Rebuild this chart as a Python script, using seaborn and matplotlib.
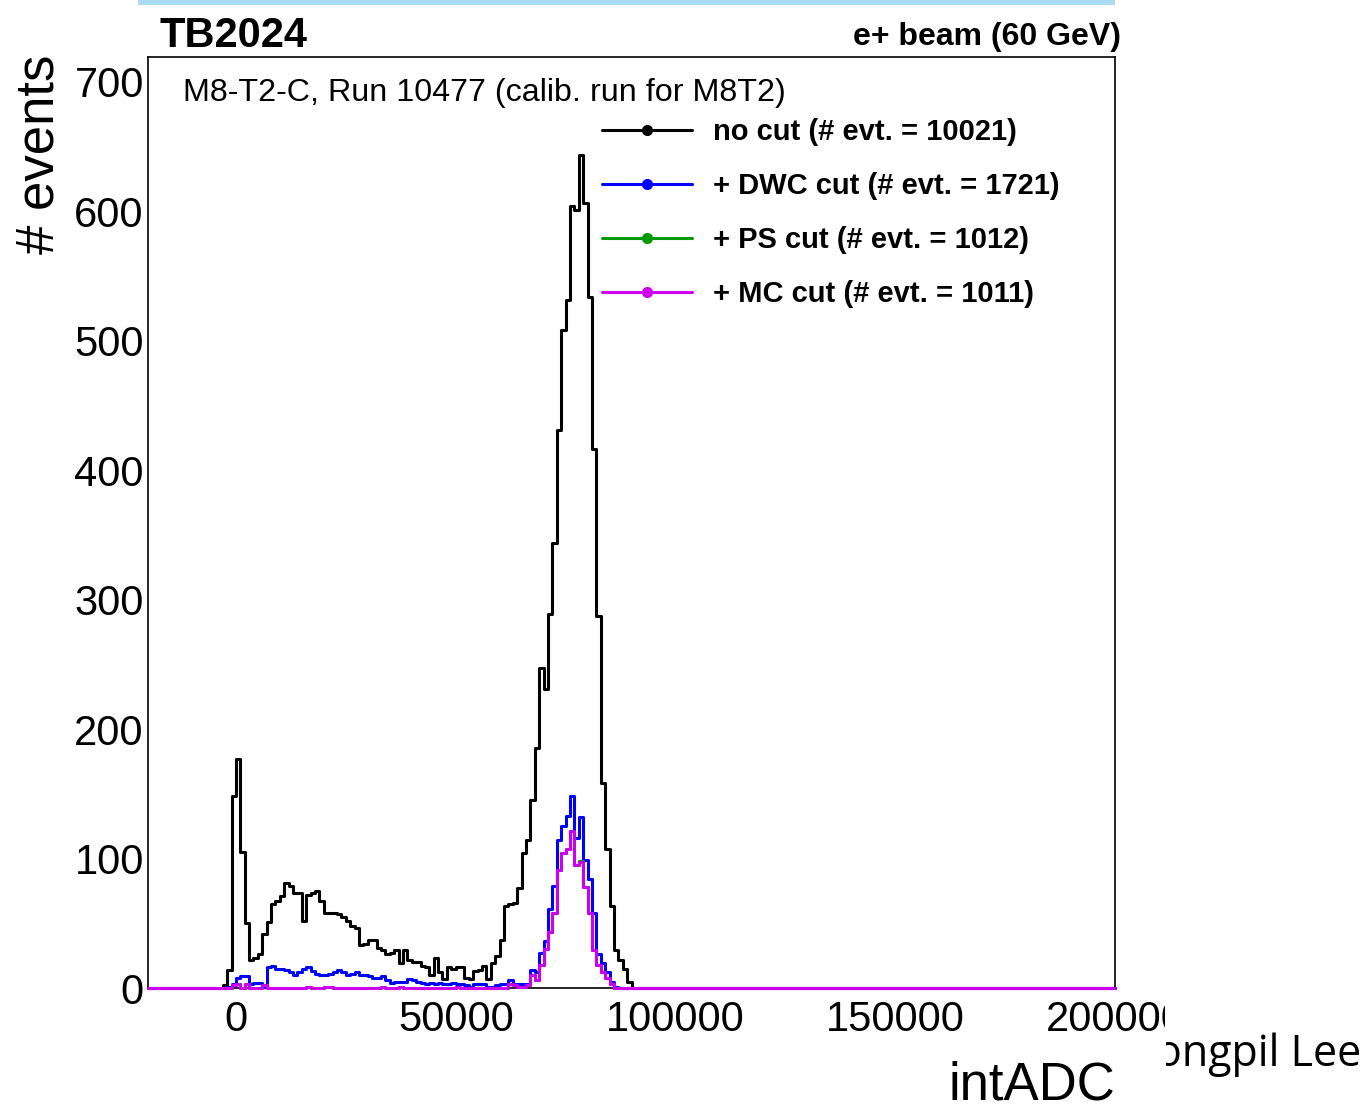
import numpy as np
import pandas as pd
import matplotlib
matplotlib.use("Agg")
import matplotlib.pyplot as plt
import seaborn as sns
from matplotlib.lines import Line2D
from matplotlib.patches import Rectangle
from matplotlib.ticker import MultipleLocator, FixedLocator, FuncFormatter
from matplotlib.transforms import Bbox, TransformedBbox

# ---------------- data ----------------
x_min, x_max, n_bins = -20000, 200000, 220

series_names = [
    "no cut (# evt. = 10021)",
    "+ DWC cut (# evt. = 1721)",
    "+ PS cut (# evt. = 1012)",
    "+ MC cut (# evt. = 1011)",
]
series_colors = ["#000000", "#0000ff", "#009900", "#cc00ee"]

# counts per bin, starting at the given bin index
no_cut_start = 17
no_cut = [2, 14, 148, 177, 105, 50, 22, 23, 26, 42,
          51, 65, 67, 71, 81, 79, 73, 73, 52, 72,
          73, 75, 67, 58, 58, 58, 57, 55, 52, 48,
          46, 33, 34, 37, 37, 31, 29, 26, 27, 29,
          19, 29, 22, 20, 20, 17, 16, 10, 23, 12,
          7, 16, 15, 16, 16, 8, 7, 13, 14, 17,
          7, 19, 25, 37, 63, 65, 66, 77, 104, 114,
          145, 185, 247, 231, 289, 344, 431, 508, 531, 604,
          601, 643, 606, 534, 416, 287, 158, 107, 63, 29,
          22, 15, 5]

dwc_start = 18
dwc_cut = [1, 3, 8, 9, 9, 3, 4, 4, 1, 16,
           17, 15, 15, 14, 12, 10, 12, 15, 16, 13,
           11, 10, 10, 11, 12, 14, 12, 10, 11, 12,
           10, 10, 9, 8, 8, 9, 6, 4, 5, 5,
           5, 7, 6, 5, 4, 3, 4, 3, 4, 3,
           3, 4, 3, 3, 2, 1, 3, 3, 3, 1,
           1, 2, 3, 3, 6, 3, 3, 3, 3, 14,
           12, 27, 36, 61, 79, 114, 125, 133, 148, 116,
           132, 99, 84, 58, 26, 19, 12, 5, 1]

ps_start = 19
ps_cut = [2, 3, 0, 3, 0, 0, 0, 2, 0, 0,
          0, 0, 0, 0, 0, 0, 0, 1, 0, 0,
          0, 1, 1, 0, 0, 0, 0, 0, 0, 0,
          0, 0, 0, 0, 1, 0, 0, 0, 1, 0,
          0, 0, 0, 0, 0, 0, 0, 0, 0, 0,
          0, 1, 0, 0, 0, 0, 0, 0, 0, 0,
          0, 0, 0, 3, 2, 1, 1, 2, 10, 6,
          18, 30, 43, 58, 91, 104, 107, 121, 95, 98,
          78, 58, 29, 18, 12, 8, 3]

mc_start = 19
mc_cut = [2, 3, 0, 3, 0, 0, 0, 2, 0, 0,
          0, 0, 0, 0, 0, 0, 0, 1, 0, 0,
          0, 1, 1, 0, 0, 0, 0, 0, 0, 0,
          0, 0, 0, 0, 1, 0, 0, 0, 1, 0,
          0, 0, 0, 0, 0, 0, 0, 0, 0, 0,
          0, 1, 0, 0, 0, 0, 0, 0, 0, 0,
          0, 0, 0, 3, 2, 1, 1, 2, 10, 6,
          18, 30, 43, 58, 91, 104, 107, 121, 95, 97,
          78, 58, 29, 18, 12, 8, 3]

x_ticks = [0, 50000, 100000, 150000, 200000]
y_ticks = [0, 100, 200, 300, 400, 500, 600, 700]

# ---------------- figure ----------------
W, H = 1370, 1111
sns.set_theme(style="white")
plt.rcParams['font.family'] = ['Liberation Sans', 'DejaVu Sans']
plt.rcParams['text.color'] = 'black'
plt.rcParams['axes.labelcolor'] = 'black'
plt.rcParams['xtick.color'] = 'black'
plt.rcParams['ytick.color'] = 'black'

fig = plt.figure(figsize=(W / 100, H / 100), dpi=100)
fig.patch.set_facecolor("white")


def fx(px):
    return px / W


def fy(py):
    return 1 - py / H


ax = fig.add_axes([fx(148), fy(988), fx(1115) - fx(148), fy(57) - fy(988)])
ax.set_facecolor("white")

bin_width = (x_max - x_min) / n_bins
centers = x_min + bin_width * (np.arange(n_bins) + 0.5)


def full(start, vals):
    arr = np.zeros(n_bins)
    arr[start:start + len(vals)] = vals
    return arr


all_series = [(no_cut_start, no_cut), (dwc_start, dwc_cut),
              (ps_start, ps_cut), (mc_start, mc_cut)]
for i, ((start, vals), col) in enumerate(zip(all_series, series_colors)):
    df = pd.DataFrame({"x": centers, "w": full(start, vals)})
    sns.histplot(data=df, x="x", weights="w", binwidth=bin_width,
                 binrange=(x_min, x_max),
                 element="step", fill=False, color=col, linewidth=2.2,
                 ax=ax, legend=False, zorder=3 + i * 0.1, clip_on=False)

ax.set_xlim(x_min, x_max)
ax.set_ylim(0, 719)
ax.set_xlabel("")
ax.set_ylabel("")

ax.xaxis.set_major_locator(FixedLocator(x_ticks))
ax.xaxis.set_minor_locator(MultipleLocator(10000))
ax.yaxis.set_major_locator(FixedLocator(y_ticks))
ax.yaxis.set_minor_locator(MultipleLocator(20))
ax.xaxis.set_major_formatter(FuncFormatter(lambda v, p: f"{int(round(v))}"))
ax.yaxis.set_major_formatter(FuncFormatter(lambda v, p: f"{int(round(v))}"))
ax.tick_params(which="both", direction="in", top=False, right=False,
               color="black", width=0.8)
ax.tick_params(which="major", length=20, labelsize=30, labelcolor="black")
ax.tick_params(which="minor", length=10)
ax.tick_params(axis="x", which="major", pad=8.5)
ax.tick_params(axis="y", which="major", pad=3)
for sp in ax.spines.values():
    sp.set_color("black")
    sp.set_linewidth(1.2)

# clip x tick labels at the picture edge
clip_left = TransformedBbox(Bbox([[0, 0], [fx(1165), 1]]), fig.transFigure)
for lab in ax.get_xticklabels():
    lab.set_clip_box(clip_left)
    lab.set_clip_on(True)

# legend
handles = [Line2D([], [], color=c, lw=2.2, marker="o", markersize=7)
           for c in series_colors]
fig.legend(handles, series_names, loc="upper left",
           bbox_to_anchor=(fx(602), fy(118)), frameon=False,
           prop={"weight": "bold", "size": 21}, handlelength=3.1,
           handletextpad=0.7, labelspacing=0.89, borderpad=0,
           borderaxespad=0, numpoints=1, labelcolor="black")

# texts
fig.text(fx(160), fy(47), "TB2024", weight="bold", size=30,
         ha="left", va="baseline")
fig.text(fx(1121), fy(45), "e+ beam (60 GeV)", weight="bold", size=23,
         ha="right", va="baseline")
fig.text(fx(183), fy(101), "M8-T2-C, Run 10477 (calib. run for M8T2)",
         size=23.2, ha="left", va="baseline")
fig.text(fx(40), fy(55), "# events", size=38, rotation=90,
         ha="center", va="top")
fig.text(fx(1115), fy(1100), "intADC", size=38, ha="right", va="baseline")

clip_right = TransformedBbox(Bbox([[fx(1166), 0], [1, 1]]), fig.transFigure)
t = fig.text(fx(1156), fy(1066), "ongpil Lee", size=31, ha="left",
             va="baseline", family=["Open Sans", "DejaVu Sans"])
t.set_clip_box(clip_right)
t.set_clip_on(True)

fig.add_artist(Rectangle((fx(138), fy(5)), fx(1115) - fx(138), 5 / H,
                         transform=fig.transFigure, color="#a9dcf2", lw=0))

fig.savefig("out.png", dpi=100)
